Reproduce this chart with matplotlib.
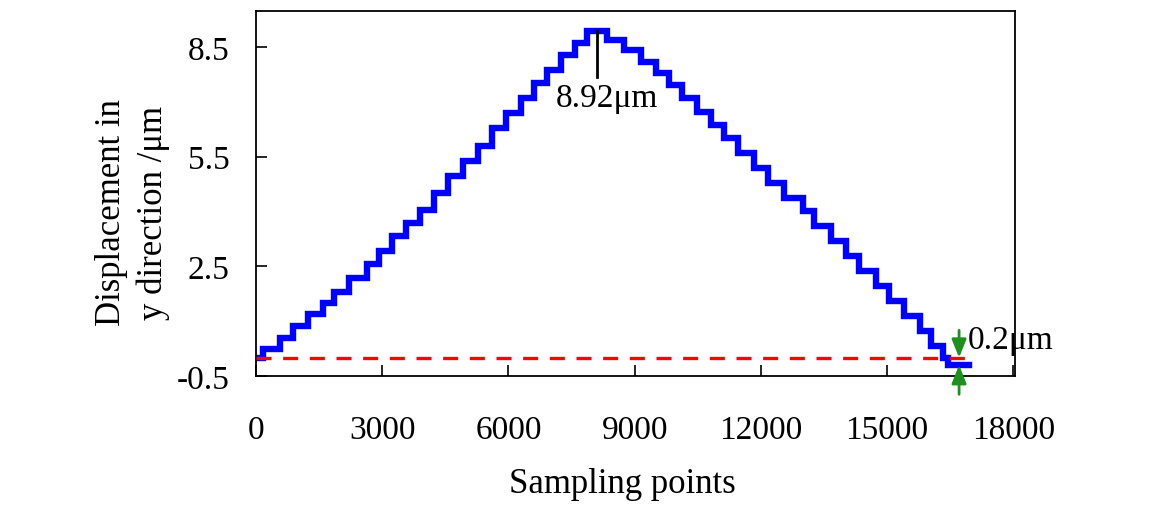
import numpy as np
import matplotlib
matplotlib.use("Agg")
import matplotlib.pyplot as plt

plt.rcParams['font.family'] = 'serif'
plt.rcParams['font.serif'] = ['Liberation Serif', 'DejaVu Serif']

# start sample of each step and the displacement level held on that step
step_x = [0, 175, 571, 889, 1246, 1587, 1865, 2222, 2635, 2913, 3230, 3564,
          3905, 4238, 4556, 4921, 5270, 5611, 5952, 6302, 6619, 6921, 7254,
          7579, 7873,
          8349, 8746, 9143, 9500, 9817, 10135, 10492, 10810, 11127, 11445,
          11841, 12159, 12555, 12992, 13270, 13667, 14024, 14341, 14738,
          15056, 15413, 15770, 16048, 16327, 16446, 16950]
step_y = [0.0, 0.24, 0.55, 0.87, 1.19, 1.49, 1.80, 2.19, 2.55, 2.91, 3.32, 3.69,
          4.05, 4.51, 4.96, 5.37, 5.78, 6.27, 6.70, 7.09, 7.50, 7.87, 8.27,
          8.61, 8.92,
          8.68, 8.41, 8.09, 7.78, 7.46, 7.09, 6.73, 6.37, 6.00, 5.59,
          5.19, 4.78, 4.37, 4.00, 3.60, 3.19, 2.78, 2.37, 1.96,
          1.55, 1.14, 0.73, 0.33, 0.0, -0.2, -0.2]

peak_x = 8105
peak_val = 8.92
end_x = 16710
start_val = 0.0
end_val = -0.2
ref_end = 16950

xticks = [0, 3000, 6000, 9000, 12000, 15000, 18000]
yticks = [-0.5, 2.5, 5.5, 8.5]

fig = plt.figure(figsize=(11.49, 5.06), dpi=100)
ax = fig.add_axes([0.2228, 0.2549, 0.6606, 0.7214])

ax.step(step_x, step_y, where='post', color='#0000ff', lw=4.6,
        solid_joinstyle='miter', zorder=2)
ax.plot([0, ref_end], [start_val, start_val], color='#ff0000', lw=2.4,
        dashes=(4.5, 3.5), zorder=3)

# peak marker
ax.plot([peak_x, peak_x], [peak_val, 7.67], color='black', lw=2, zorder=4)
ax.text(8340, 7.12, '%.2fμm' % peak_val, fontsize=24, ha='center', va='center')

# gap between start and end level
green = '#1f8f1f'
arrow = dict(arrowstyle='-|>,head_length=0.55,head_width=0.22', color=green,
             lw=2, mutation_scale=20, shrinkA=0, shrinkB=0)
ax.annotate('', xy=(end_x, start_val), xytext=(end_x, 0.75), arrowprops=arrow,
            annotation_clip=False, zorder=5)
ax.annotate('', xy=(end_x, end_val), xytext=(end_x, -1.0), arrowprops=arrow,
            annotation_clip=False, zorder=5)
ax.text(16925, 0.48, '%.1fμm' % (start_val - end_val), fontsize=24,
        ha='left', va='center')

ax.set_xlim(0, 18040)
ax.set_ylim(-0.5, 9.48)
ax.set_xticks(xticks)
ax.set_yticks(yticks)
ax.set_yticklabels(['-0.5', '2.5', '5.5', '8.5'])
ax.tick_params(direction='in', length=8, width=1.2, labelsize=24,
               top=False, right=False)
ax.tick_params(axis='x', pad=28)
ax.tick_params(axis='y', pad=19)
for s in ax.spines.values():
    s.set_linewidth(1.3)

ax.set_xlabel('Sampling points', fontsize=25)
ax.xaxis.set_label_coords(0.483, -0.25)
ax.set_ylabel('Displacement in\ny direction /μm', fontsize=25, linespacing=1.35)
ax.yaxis.set_label_coords(-0.113, 0.45)

fig.savefig('out.png', dpi=100)
